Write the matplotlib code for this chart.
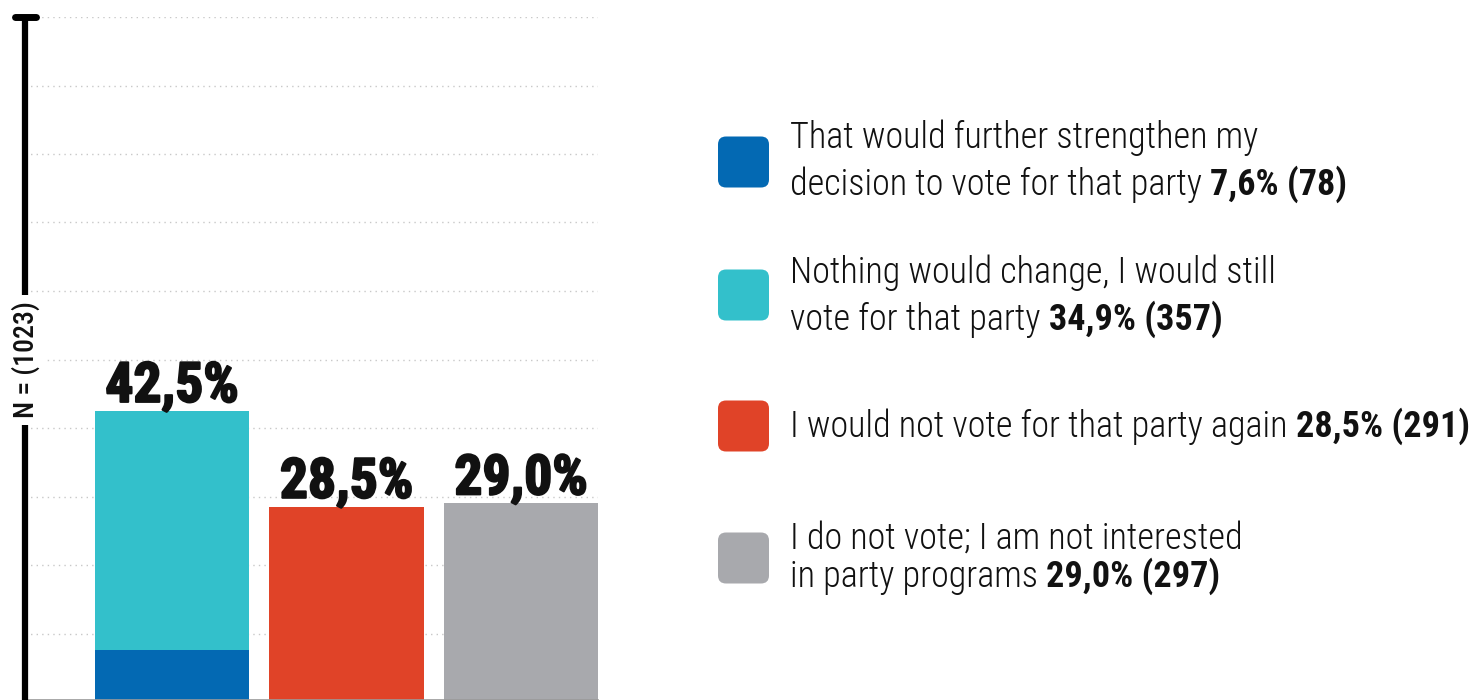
import matplotlib
matplotlib.use('Agg')
import matplotlib.pyplot as plt
import matplotlib.patheffects as pe
from matplotlib import font_manager
from matplotlib.patches import FancyBboxPatch
from matplotlib.transforms import offset_copy

# pick a narrow font if one is installed
names = {f.name for f in font_manager.fontManager.ttflist}
FONT = next((n for n in ['Roboto Condensed', 'Open Sans Condensed', 'Liberation Sans Narrow',
                         'Arial Narrow', 'DejaVu Sans'] if n in names), 'DejaVu Sans')
plt.rcParams['font.family'] = [FONT, 'DejaVu Sans']

# data
answers = ['That would further strengthen my\ndecision to vote for that party',
           'Nothing would change, I would still\nvote for that party',
           'I would not vote for that party again',
           'I do not vote; I am not interested\nin party programs']
shares = [7.6, 34.9, 28.5, 29.0]
counts = [78, 357, 291, 297]
bar_pos = [0, 0, 1, 2]
colors = ['#0369b3', '#33c0cb', '#e04328', '#a8a9ad']
sample = 'N = (1023)'

W, H = 1479, 700
fig = plt.figure(figsize=(W / 100, H / 100), dpi=100)

# bar area
ax = fig.add_axes([25 / W, -2 / H, 573 / W, 685 / H])
bottoms = []
stack = {}
for p, s in zip(bar_pos, shares):
    bottoms.append(stack.get(p, 0))
    stack[p] = stack.get(p, 0) + s
ax.bar(bar_pos, shares, bottom=bottoms, width=0.883, color=colors, zorder=2)
for p, tot in stack.items():
    ax.annotate(f'{tot:.1f}%'.replace('.', ','), xy=(p, tot), xytext=(0, 9),
                textcoords='offset pixels', ha='center', va='baseline',
                fontsize=40, fontweight='bold', color='#111111',
                path_effects=[pe.withStroke(linewidth=1.5, foreground='#111111')])
ax.set_xlim(-0.842, 2.441)
ax.set_ylim(0, 100)
ax.set_yticks(range(10, 101, 10))
ax.yaxis.grid(True, linestyle=(0, (1, 3)), color='#c8c8c8', lw=1)
ax.set_axisbelow(True)
ax.tick_params(left=False, bottom=False, labelleft=False, labelbottom=False)
for sp in ax.spines.values():
    sp.set_visible(False)

# overlay in pixel coords (y down)
ov = fig.add_axes([0, 0, 1, 1], zorder=5)
ov.set_xlim(0, W)
ov.set_ylim(H, 0)
ov.axis('off')

ov.plot([25, 598], [699.5, 699.5], color='#9a9a9a', lw=1.2)
ov.plot([25, 25], [17, 700], color='black', lw=4.5, solid_capstyle='butt')
ov.plot([15, 36], [16.5, 16.5], color='black', lw=5, solid_capstyle='round')
ov.text(26, 360, sample, rotation=90, ha='center', va='center', fontsize=20,
        fontweight='medium', color='#111111',
        bbox=dict(facecolor='white', edgecolor='none', pad=5))

# legend
box_y = [162, 295, 426, 558]
line_y = [[148, 195], [283, 330], [437], [549, 587]]
renderer = fig.canvas.get_renderer()
FS = 26


def rich_line(x, y, parts):
    t = ov.transData
    for s, w in parts:
        txt = ov.text(x, y, s, transform=t, fontsize=FS, fontweight=w,
                      va='baseline', ha='left', color='#111111')
        txt.draw(renderer)
        ext = txt.get_window_extent(renderer)
        t = offset_copy(txt.get_transform(), fig=fig, x=ext.width, units='dots')


for i, ans in enumerate(answers):
    ov.add_patch(FancyBboxPatch((718, box_y[i] - 25.5), 51, 51,
                                boxstyle='round,pad=0,rounding_size=8',
                                fc=colors[i], ec='none'))
    lines = ans.split('\n')
    for ln, y in zip(lines[:-1], line_y[i][:-1]):
        rich_line(790, y, [(ln, 'light')])
    val = f'{shares[i]:.1f}%'.replace('.', ',')
    rich_line(790, line_y[i][-1], [(lines[-1] + ' ', 'light'),
                                   (f'{val} ({counts[i]})', 'bold')])

fig.savefig('out.png', dpi=100)
